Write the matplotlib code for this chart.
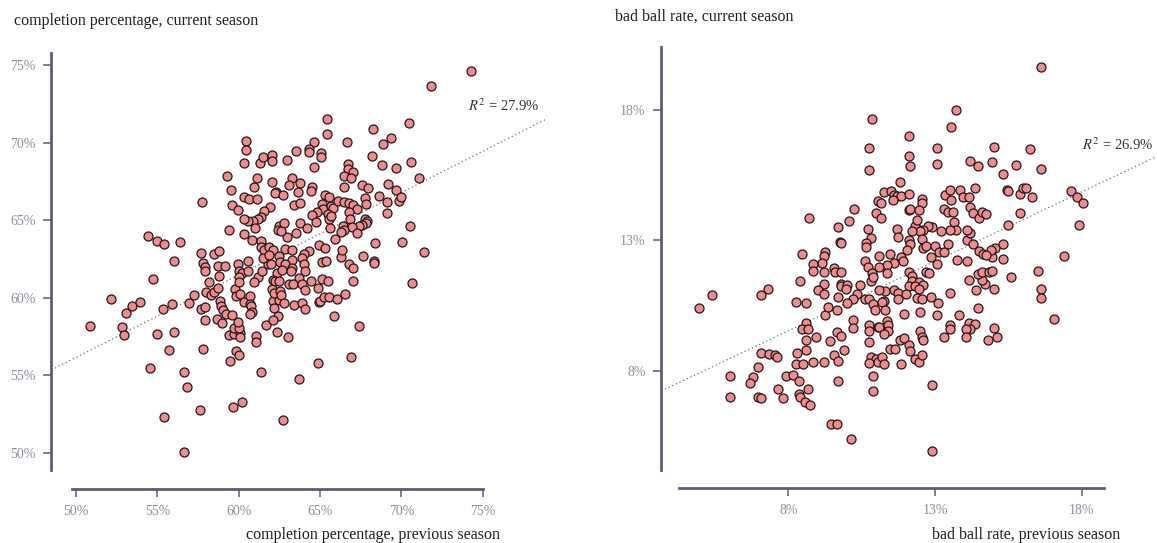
import numpy as np
import matplotlib
matplotlib.use("Agg")
import matplotlib.pyplot as plt
from matplotlib.ticker import FuncFormatter

plt.rcParams["font.family"] = "serif"
plt.rcParams["font.serif"] = ["Liberation Serif", "DejaVu Serif"]
plt.rcParams["mathtext.fontset"] = "stix"

# (previous season %, current season %) for each quarterback: completion percentage
completion = [
    (60.45, 70.1), (60.45, 69.5), (60.3, 68.7), (61.3, 68.7), (61.5, 69.05), (62.05, 69.2),
    (62.05, 68.8), (59.3, 67.85), (61.1, 67.75), (62.05, 67.45), (62.3, 66.85), (62.25, 66.75),
    (60.95, 67.15), (59.5, 66.95), (60.3, 66.5), (60.65, 66.35), (61.1, 66.35), (57.75, 66.2),
    (59.6, 65.95), (59.95, 65.65), (61.9, 65.85), (61.55, 65.6), (61.4, 65.2), (61.2, 65.1),
    (60.9, 64.95), (60.6, 64.95), (60.35, 65.1), (59.4, 64.4), (61.0, 64.5), (60.35, 64.1),
    (60.8, 63.7), (62.5, 64.65), (62.4, 64.35), (61.35, 63.65), (61.35, 63.25), (61.55, 63.1),
    (61.85, 63.25), (62.1, 63.1), (62.45, 62.7), (54.4, 64.0), (54.95, 63.65), (55.4, 63.45),
    (56.4, 63.6), (56.0, 62.4), (54.75, 61.2), (57.7, 62.9), (58.5, 62.8), (58.8, 63.0),
    (57.8, 62.25), (57.95, 62.0), (57.95, 61.75), (58.7, 62.05), (59.15, 62.05), (58.8, 61.4),
    (59.95, 62.2), (60.05, 61.75), (60.2, 61.6), (60.05, 61.35), (60.6, 62.35), (60.6, 61.75),
    (61.2, 61.35), (61.45, 61.7), (61.8, 62.2), (62.0, 62.2), (61.5, 62.55), (61.85, 62.75),
    (62.35, 61.6), (62.1, 61.15),
    (74.3, 74.6), (71.8, 73.65), (65.4, 71.5), (65.4, 70.55), (70.45, 71.25), (68.25, 70.85),
    (69.35, 70.3), (68.85, 69.9), (66.65, 70.05), (64.6, 70.05), (63.55, 69.45), (64.3, 69.6),
    (64.35, 69.4), (65.05, 69.35), (65.05, 69.1), (63.0, 68.85), (64.6, 68.45), (68.2, 69.15),
    (68.8, 68.55), (69.65, 68.35), (70.6, 68.75), (71.1, 67.75), (66.7, 68.6), (66.7, 68.3),
    (67.05, 68.1), (66.45, 67.85), (66.9, 67.75), (63.3, 67.7), (63.1, 67.25), (63.75, 67.4),
    (62.75, 66.6), (63.65, 66.8), (64.5, 67.15), (64.45, 66.9), (66.5, 67.15), (67.6, 67.25),
    (67.95, 67.05), (69.2, 67.35), (69.7, 66.95), (65.3, 66.6), (65.55, 66.5), (68.6, 66.55),
    (67.75, 66.4), (69.1, 66.2), (67.8, 66.05), (69.85, 66.25), (70.0, 66.5), (63.4, 65.95),
    (63.8, 66.1), (65.15, 66.05), (65.2, 65.7), (64.8, 65.55), (65.7, 65.9), (65.8, 65.8),
    (66.1, 66.25), (66.45, 66.15), (66.8, 66.1), (67.0, 65.95), (67.3, 65.75), (64.5, 65.35),
    (65.5, 65.4), (66.8, 65.5), (62.8, 64.8), (63.8, 64.8), (64.2, 64.5), (64.75, 64.9),
    (65.55, 65.05), (65.7, 65.25), (66.85, 65.1), (67.75, 65.05), (67.9, 64.95), (67.8, 64.8),
    (67.6, 64.7), (67.4, 64.65), (66.95, 64.55), (67.25, 64.2), (66.4, 64.6), (66.5, 64.35),
    (66.3, 64.25), (65.6, 64.5), (69.1, 65.45), (70.55, 64.6), (70.05, 63.6), (71.4, 62.95),
    (68.35, 63.55), (67.65, 62.7), (68.3, 62.4), (68.3, 62.25), (66.3, 62.65), (66.35, 63.1),
    (66.8, 62.2), (67.05, 61.9), (65.95, 63.8), (64.95, 63.4), (65.3, 63.2), (65.1, 62.3),
    (65.35, 62.4), (62.95, 63.95), (63.55, 64.2), (62.85, 63.15), (63.3, 63.1), (64.3, 63.0),
    (64.0, 62.8), (63.3, 62.45), (63.9, 62.55), (64.0, 62.2), (64.05, 61.75), (62.55, 62.3),
    (62.85, 62.15), (62.65, 61.8), (63.3, 61.9), (63.2, 61.75), (63.7, 61.25), (65.1, 61.2),
    (62.6, 64.3),
    (50.85, 58.2), (52.15, 59.95), (53.1, 59.05), (53.45, 59.45), (53.95, 59.7), (52.85, 58.1),
    (52.95, 57.6), (54.95, 57.7), (56.05, 57.8), (55.35, 59.25), (55.9, 59.6), (56.95, 59.65),
    (57.25, 60.2), (55.7, 56.65), (57.8, 56.7), (54.55, 55.5), (56.65, 55.25), (56.85, 54.25),
    (55.4, 52.35), (57.6, 52.75), (59.65, 52.95), (60.2, 53.3), (56.65, 50.1), (61.4, 55.25),
    (59.45, 55.9), (59.85, 56.6), (60.05, 56.3), (61.05, 57.55), (61.05, 57.15), (61.7, 58.25),
    (62.35, 57.8), (59.4, 57.6), (59.7, 57.7), (60.1, 57.75), (60.1, 57.45), (59.7, 58.05),
    (60.05, 58.05), (59.95, 58.45), (57.95, 58.55), (58.65, 58.65), (59.0, 58.4), (57.7, 59.3),
    (57.95, 59.4), (58.85, 59.8), (58.9, 59.45), (59.05, 59.2), (59.2, 58.95), (59.6, 58.9),
    (58.0, 60.35), (58.3, 60.2), (58.5, 60.4), (58.7, 60.65), (58.15, 61.0), (59.75, 60.6),
    (59.85, 60.15), (60.1, 60.25), (60.3, 59.75), (60.0, 61.0), (60.7, 60.1), (60.7, 59.6),
    (60.75, 59.45), (60.8, 59.1), (60.7, 58.95), (60.95, 61.0), (62.05, 60.55), (62.25, 61.1),
    (62.45, 61.1), (62.1, 59.8), (62.2, 59.35), (62.45, 59.85), (62.4, 58.8), (62.1, 58.6),
    (62.15, 60.3),
    (62.55, 60.45), (62.6, 60.2), (62.8, 59.65), (63.4, 59.55), (63.1, 60.9), (63.35, 60.9),
    (63.9, 60.9), (64.45, 61.1), (65.5, 61.1), (67.0, 61.1), (64.05, 60.5), (64.9, 60.65),
    (63.9, 59.65), (64.1, 59.3), (64.95, 59.75), (65.0, 59.8), (65.25, 60.05), (65.55, 60.05),
    (66.05, 59.95), (66.55, 60.25), (63.05, 57.45), (65.85, 58.8), (67.4, 58.2), (66.9, 56.2),
    (64.85, 55.8), (63.7, 54.8), (62.75, 52.1), (70.65, 60.95),
]

# (previous season %, current season %) for each quarterback: bad ball rate
bad_ball = [
    (10.85, 17.65), (10.75, 16.55), (10.75, 15.7), (11.05, 14.5), (11.0, 14.05), (10.25, 14.2),
    (10.05, 13.75), (8.7, 13.85), (9.7, 13.5), (10.7, 13.45), (10.8, 13.1), (10.65, 12.9),
    (10.65, 12.75), (9.75, 12.95), (9.8, 12.9), (8.45, 12.5), (9.25, 12.55), (9.2, 12.4),
    (9.15, 12.15), (8.85, 12.1), (8.85, 11.85), (9.2, 11.8), (9.55, 11.95), (9.6, 11.8),
    (9.8, 11.8), (8.4, 11.45), (9.2, 11.35), (9.0, 11.1), (9.2, 10.95), (9.8, 11.35),
    (9.8, 11.25), (10.0, 11.3), (9.95, 11.15), (9.7, 10.85), (10.45, 11.3), (10.6, 12.2),
    (10.7, 12.0), (10.85, 11.75), (10.8, 11.45), (10.9, 11.6), (10.35, 10.95), (10.2, 10.75),
    (10.6, 10.75), (10.75, 10.75), (5.4, 10.9), (7.05, 10.9), (7.3, 11.15),
    (16.6, 19.65), (13.7, 18.0), (13.55, 17.35), (12.1, 17.0), (13.05, 16.55), (13.05, 15.95),
    (12.1, 16.25), (12.15, 15.85), (15.0, 16.6), (14.95, 16.0), (16.25, 16.5), (14.2, 16.05),
    (14.45, 15.85), (15.75, 15.9), (16.6, 15.75), (15.3, 15.55), (11.8, 15.25), (11.25, 14.85),
    (11.5, 14.9), (11.6, 14.75), (11.7, 14.7), (11.85, 14.7), (12.1, 14.8), (11.15, 14.45),
    (11.55, 14.55), (12.55, 14.6), (12.55, 14.45), (13.35, 14.75), (13.5, 14.95), (13.55, 14.55),
    (13.3, 14.2), (13.45, 14.1), (13.6, 14.1), (13.85, 14.95), (13.95, 14.65), (14.15, 14.65),
    (14.35, 15.0), (14.2, 14.3), (14.3, 14.05), (14.5, 13.85), (14.6, 14.1), (14.75, 14.0),
    (15.45, 14.95), (15.5, 14.9), (15.9, 14.8), (16.0, 15.0), (16.1, 15.0), (16.3, 14.65),
    (15.9, 14.05), (15.5, 13.6), (17.65, 14.9), (17.85, 14.65), (18.05, 14.45), (17.9, 13.6),
    (17.4, 12.4), (16.5, 11.85), (16.6, 11.15), (16.6, 10.8), (15.6, 11.6), (15.0, 11.15),
    (14.4, 11.1), (14.7, 11.35), (14.6, 11.5), (14.45, 11.7), (14.6, 11.8), (14.85, 11.8),
    (14.95, 11.85), (14.95, 12.35), (15.3, 12.3), (15.05, 12.7), (14.9, 12.65), (15.3, 12.85),
    (14.15, 11.5), (14.1, 12.2), (13.75, 12.25), (14.1, 13.0), (14.2, 13.3), (14.1, 13.4),
    (14.3, 12.85), (14.5, 12.6), (14.65, 12.5), (14.75, 12.45), (13.5, 11.0), (13.65, 13.7),
    (13.7, 13.4), (13.5, 13.4), (13.2, 13.35), (12.9, 13.5), (12.75, 13.55), (12.6, 13.4),
    (12.45, 13.4), (12.3, 13.55), (12.4, 13.8), (12.5, 13.35), (12.2, 13.35), (12.1, 14.15),
    (12.15, 14.2), (12.45, 14.15), (11.7, 13.45), (11.75, 13.15), (12.1, 13.0), (12.15, 12.85),
    (12.05, 12.65), (12.55, 13.05), (12.6, 12.7), (12.7, 12.8), (13.0, 12.8), (13.15, 12.55),
    (13.3, 12.55), (13.45, 12.85), (12.85, 12.35), (13.05, 12.1), (12.7, 11.8), (12.8, 11.75),
    (11.45, 12.5), (11.85, 12.35), (11.9, 12.2), (11.6, 12.15), (11.35, 12.05), (11.35, 11.75),
    (11.1, 12.4), (11.1, 12.0), (12.1, 11.8), (12.2, 11.65), (12.2, 11.45), (12.45, 11.4),
    (12.1, 11.25), (12.3, 11.25), (12.6, 11.3), (12.45, 11.15), (11.6, 11.1), (11.75, 11.0),
    (11.75, 10.75), (12.0, 10.95), (12.4, 10.8), (12.55, 10.75), (12.85, 10.85), (11.3, 11.05),
    (11.25, 10.7), (11.1, 11.1), (11.15, 13.85),
    (4.95, 10.4), (8.25, 10.65), (8.6, 10.6), (9.25, 10.15), (9.35, 10.45), (9.65, 10.35),
    (10.0, 10.6), (8.6, 9.85), (8.45, 9.6), (8.65, 9.6), (8.6, 9.2), (8.95, 9.3),
    (8.6, 8.8), (8.3, 8.7), (8.25, 8.25), (8.5, 8.25), (8.85, 8.35), (9.2, 8.35),
    (9.4, 9.15), (9.65, 9.5), (9.8, 9.35), (10.2, 9.95), (10.2, 9.65), (9.55, 8.6),
    (9.7, 8.4), (9.9, 8.8), (10.75, 9.75), (10.75, 9.55), (11.05, 9.7), (10.75, 9.1),
    (10.8, 8.55), (11.0, 8.45), (10.75, 8.3), (11.05, 8.35), (10.9, 7.8), (10.9, 7.25),
    (9.7, 7.6), (7.05, 8.7), (7.35, 8.65), (7.55, 8.6), (7.6, 8.55), (6.95, 8.15),
    (6.8, 7.75), (6.7, 7.55), (6.0, 7.8), (6.0, 7.0), (6.95, 7.0), (7.05, 6.95),
    (7.65, 7.3), (7.8, 6.95), (7.9, 7.8), (8.15, 7.85), (8.35, 7.6), (8.65, 7.3),
    (8.35, 7.1), (8.4, 7.0), (8.55, 6.8), (8.75, 6.7), (9.45, 5.95), (9.65, 5.95),
    (10.15, 5.4), (10.9, 10.55), (10.95, 10.35),
    (11.2, 10.65), (13.1, 10.6), (11.3, 10.35), (11.95, 10.2), (12.5, 10.25), (13.05, 10.15),
    (13.8, 10.15), (14.45, 10.4), (17.05, 10.0), (11.1, 9.7), (11.35, 9.9), (11.4, 9.75),
    (11.4, 9.55), (11.25, 9.4), (12.5, 9.55), (12.55, 9.3), (12.6, 9.2), (11.8, 9.2),
    (11.95, 9.25), (12.1, 9.0), (12.15, 8.75), (13.5, 9.75), (13.5, 9.6), (13.3, 9.3),
    (14.15, 9.85), (14.35, 9.8), (14.2, 9.6), (14.05, 9.6), (14.05, 9.3), (15.0, 9.65),
    (15.1, 9.3), (14.8, 9.2), (11.45, 8.85), (11.65, 8.85), (11.2, 8.55), (11.25, 8.25),
    (11.85, 8.25), (12.3, 8.45), (12.45, 8.35), (12.55, 8.6), (12.9, 7.45), (12.9, 4.95),
]

completion_ticks = [50, 55, 60, 65, 70, 75]
bad_ball_ticks = [8, 13, 18]
completion_r2 = "27.9%"
bad_ball_r2 = "26.9%"

AXIS = "#5a5e78"
TICKTXT = "#8b8d9c"
TEXT = "#1e1e1e"
POINT = "#f28b8b"

W, H = 1157, 543
fig = plt.figure(figsize=(W / 100, H / 100), dpi=100)


def px_axes(x0, x1, y0, y1):
    return fig.add_axes([x0 / W, 1 - y1 / H, (x1 - x0) / W, (y1 - y0) / H])


def draw_panel(ax, pairs, xlim, ylim, xticks, yticks, xbounds, ybounds, bottom_offset):
    data = np.array(pairs)
    x, y = data[:, 0], data[:, 1]
    slope, icpt = np.polyfit(x, y, 1)
    xs = np.array(xlim)
    ax.plot(xs, icpt + slope * xs, linestyle=(0, (1, 2.2)), color="#6e6e6e",
            lw=0.9, zorder=2)
    ax.scatter(x, y, s=42, facecolor=POINT, edgecolor="#1a1a1a", linewidths=0.9,
               zorder=3)
    ax.set_xlim(*xlim)
    ax.set_ylim(*ylim)
    ax.patch.set_visible(False)
    for side in ("top", "right"):
        ax.spines[side].set_visible(False)
    ax.spines["left"].set_position(("outward", 3))
    ax.spines["bottom"].set_position(("outward", bottom_offset))
    ax.spines["left"].set_bounds(*ybounds)
    ax.spines["bottom"].set_bounds(*xbounds)
    for side in ("left", "bottom"):
        ax.spines[side].set_color(AXIS)
        ax.spines[side].set_linewidth(2.0)
    ax.set_xticks(xticks)
    ax.set_yticks(yticks)
    fmt = FuncFormatter(lambda v, _: f"{v:.0f}%")
    ax.xaxis.set_major_formatter(fmt)
    ax.yaxis.set_major_formatter(fmt)
    ax.tick_params(direction="out", length=6, width=1.1, color=AXIS,
                   labelcolor=TICKTXT, labelsize=10, pad=5)


ax1 = px_axes(55, 545, 47, 472)
draw_panel(ax1, completion, (48.71, 78.83), (48.78, 76.16),
           completion_ticks, completion_ticks, (49.75, 75.0), (48.9, 75.8), 12.5)

ax2 = px_axes(665, 1155, 44, 473)
draw_panel(ax2, bad_ball, (3.79, 20.5), (4.09, 20.53),
           bad_ball_ticks, bad_ball_ticks, (4.28, 18.75), (4.2, 20.4), 11)

fig.text(14 / W, 1 - 21 / H, "completion percentage, current season",
         ha="left", va="center", fontsize=11.5, color=TEXT)
fig.text(500 / W, 1 - 535 / H, "completion percentage, previous season",
         ha="right", va="center", fontsize=11.5, color=TEXT)
fig.text(615 / W, 1 - 17 / H, "bad ball rate, current season",
         ha="left", va="center", fontsize=11.5, color=TEXT)
fig.text(1120 / W, 1 - 535 / H, "bad ball rate, previous season",
         ha="right", va="center", fontsize=11.5, color=TEXT)

fig.text(468 / W, 1 - 106 / H, r"$R^2$ = " + completion_r2,
         ha="left", va="center", fontsize=10.5, color="#333333")
fig.text(1082 / W, 1 - 145 / H, r"$R^2$ = " + bad_ball_r2,
         ha="left", va="center", fontsize=10.5, color="#333333")

fig.savefig("out.png", dpi=100)
